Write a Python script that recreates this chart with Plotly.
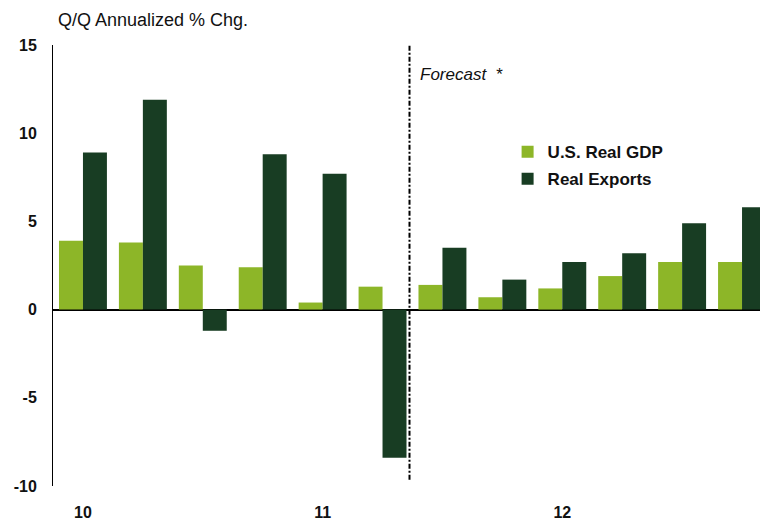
import plotly.graph_objects as go

quarters = ["10Q1", "10Q2", "10Q3", "10Q4", "11Q1", "11Q2", "11Q3", "11Q4",
            "12Q1", "12Q2", "12Q3", "12Q4"]
gdp = [3.9, 3.8, 2.5, 2.4, 0.4, 1.3, 1.4, 0.7, 1.2, 1.9, 2.7, 2.7]
exports = [8.9, 11.9, -1.2, 8.8, 7.7, -8.4, 3.5, 1.7, 2.7, 3.2, 4.9, 5.8]
year_ticks = ["10Q1", "11Q1", "12Q1"]
year_labels = ["10", "11", "12"]
y_ticks = [-10, -5, 0, 5, 10, 15]
y_labels = ["-10", "-5", "0", "5", "10", "15"]

FONT = "Liberation Sans"
GDP_COLOR = "#8DB628"
EXP_COLOR = "#183D23"

fig = go.Figure()
fig.add_trace(go.Bar(x=quarters, y=gdp, name="U.S. Real GDP",
                     marker=dict(color=GDP_COLOR, line=dict(width=0)),
                     legendgroup="a"))
fig.add_trace(go.Bar(x=quarters, y=exports, name="Real Exports",
                     marker=dict(color=EXP_COLOR, line=dict(width=0)),
                     legendgroup="b"))

# forecast divider
fig.add_shape(type="line", xref="x", yref="y", x0=5.45, x1=5.45, y0=-9.65, y1=15,
              line=dict(color="black", width=2, dash="5px,2px,2px,2px"))

fig.add_annotation(text="Forecast  *", xref="x", yref="y", x=5.6, y=13.3,
                   xanchor="left", yanchor="middle", showarrow=False,
                   font=dict(family=FONT, size=17, color="#111111", style="italic"))

fig.add_annotation(text="Q/Q Annualized % Chg.", xref="paper", yref="paper",
                   x=0.004, y=1.0, yshift=25, xanchor="left", yanchor="middle",
                   showarrow=False,
                   font=dict(family=FONT, size=18, color="#111111"))

fig.update_layout(
    width=760, height=521,
    margin=dict(l=53, r=0, t=45, b=33),
    paper_bgcolor="white", plot_bgcolor="white",
    barmode="group", bargap=0.2, bargroupgap=0,
    showlegend=True,
    legend=dict(x=0.643, y=0.798, xanchor="left", yanchor="top",
                traceorder="grouped", tracegroupgap=2,
                bgcolor="rgba(0,0,0,0)",
                font=dict(family=FONT, size=17, color="#111111", weight="bold")),
    xaxis=dict(type="category", range=[-0.5, 11.3],
               tickmode="array", tickvals=year_ticks, ticktext=year_labels,
               showline=False, showgrid=False, zeroline=False,
               ticks="outside", ticklen=12, tickcolor="rgba(0,0,0,0)",
               tickfont=dict(family=FONT, size=16, color="#111111", weight="bold")),
    yaxis=dict(range=[-10, 15], tickmode="array", tickvals=y_ticks, ticktext=y_labels,
               showline=True, linecolor="black", linewidth=1,
               showgrid=False, zeroline=True, zerolinecolor="black", zerolinewidth=1.5,
               ticks="outside", ticklen=12, tickcolor="rgba(0,0,0,0)",
               tickfont=dict(family=FONT, size=16, color="#111111", weight="bold")),
)

fig.write_html("out.html", config={"displayModeBar": False},
               post_script="document.body.style.margin='0';document.body.style.padding='0';")
